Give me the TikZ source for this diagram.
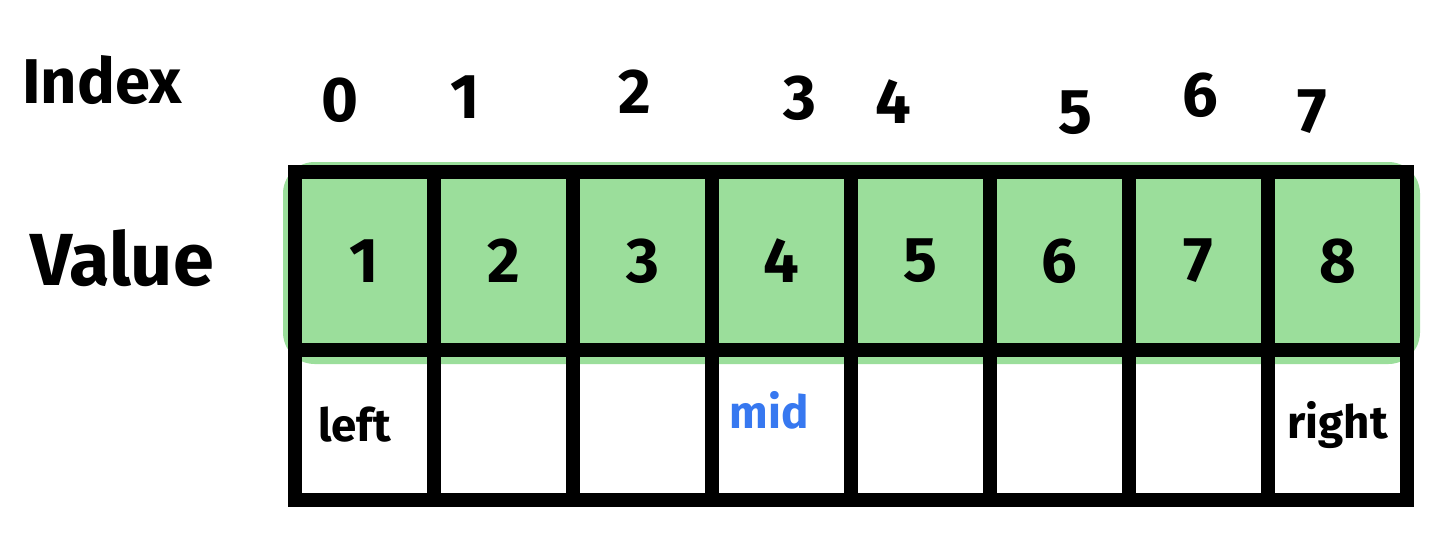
\documentclass[tikz,border=0pt]{standalone}
\usepackage{fontspec}
\setmainfont{Fira Sans}
\usetikzlibrary{positioning}
\definecolor{green}{RGB}{155, 222, 155}
\definecolor{blue}{RGB}{55, 120, 240}

\begin{document}
\begin{tikzpicture}[x=0.02cm, y=-0.02cm,
    cell/.style={draw, line width=7.5pt, minimum width=2.78cm, inner sep=0pt, outer sep=0pt},
    valcell/.style={cell, minimum height=3.56cm},
    ptrcell/.style={cell, minimum height=3cm},
    hand/.style={font=\fontsize{36}{36}\selectfont\bfseries},
    small/.style={font=\fontsize{26}{26}\selectfont\bfseries}]
    \useasboundingbox (0,0) rectangle (1433,545);

    % Nền xanh cho hàng giá trị
    \fill[green, rounded corners=18pt] (283,162) rectangle (1420,364);

    % Hàng giá trị: ô v0..v7
    \foreach \v [count=\i from 0] in {1,...,8} {
        \node[valcell, hand] (v\i) at ({364.5+139*\i},261) {\v};
    }
    % Hàng con trỏ: ô p0..p7 ngay dưới
    \foreach \i in {0,...,7} {
        \node[ptrcell, below=0pt of v\i] (p\i) {};
    }

    % Chữ "Index" và "Value" bên trái
    \node[hand] (index) at (102,80) {Index};
    \node[font=\fontsize{42}{42}\selectfont\bfseries] (value) at (122,258) {Value};

    % Chỉ số phía trên mỗi ô
    \foreach \x/\y [count=\i from 0] in {340/100, 465/97, 635/92, 800/98, 893/102, 1075/113, 1200/95, 1312/112} {
        \node[hand] (i\i) at (\x,\y) {\i};
    }

    % Nhãn left, mid, right
    \node[small] (left) at ([xshift=-0.2cm]p0) {left};
    \node[small, text=blue] (mid) at ([xshift=-0.25cm, yshift=0.3cm]p3) {mid};
    \node[small] (right) at (p7) {right};
\end{tikzpicture}
\end{document}
